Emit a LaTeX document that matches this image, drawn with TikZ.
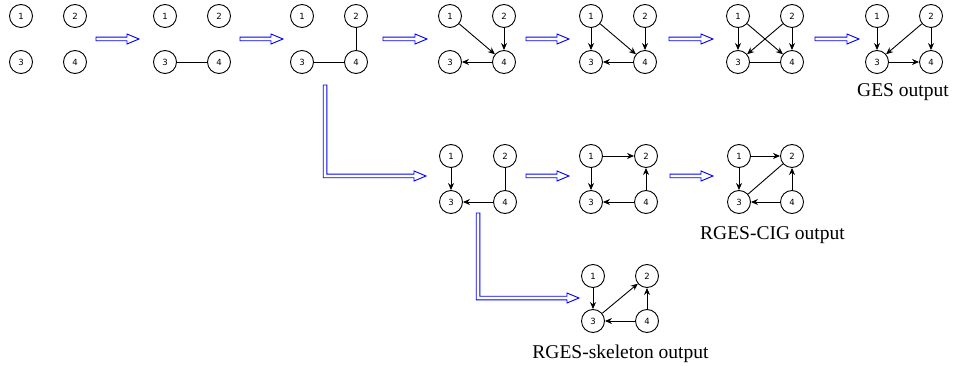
\documentclass[tikz,border=0pt]{standalone}
\usepackage{fontspec}
\setmainfont{Liberation Serif}
\newfontfamily\digitfont{DejaVu Sans}
\usetikzlibrary{arrows.meta}
\tikzset{
  vx/.style={circle,draw=black,line width=0.9pt,minimum size=23pt,inner sep=0pt,font=\digitfont\fontsize{8.5}{9}\selectfont},
  dir/.style={line width=0.9pt,-{Stealth[length=7pt,width=6pt]}},
  und/.style={line width=0.9pt},
  bluearrow/.style={draw=blue,line width=0.9pt,fill=white,line join=miter},
  caption/.style={font=\fontsize{19.5}{22}\selectfont,anchor=base,inner sep=0pt}
}
% four-node graph: prefix, x-left, x-right, y-top, y-bottom
\newcommand\fourg[5]{%
  \node[vx] (#1-1) at (#2,#4) {1};
  \node[vx] (#1-2) at (#3,#4) {2};
  \node[vx] (#1-3) at (#2,#5) {3};
  \node[vx] (#1-4) at (#3,#5) {4};
}
% horizontal blue implication arrow: x-start, x-end, y
\newcommand\harrow[3]{%
  \draw[bluearrow] (#1,#3-1.8) -- (#2-12,#3-1.8) -- (#2-12,#3-5) -- (#2,#3)
    -- (#2-12,#3+5) -- (#2-12,#3+1.8) -- (#1,#3+1.8) -- cycle;
}
% L-shaped blue arrow: x-vertical, y-top, y-corner, x-end
\newcommand\larrow[4]{%
  \draw[bluearrow] (#1-1.8,#2) -- (#1-1.8,#3+1.8) -- (#4-12,#3+1.8) -- (#4-12,#3+5)
    -- (#4,#3) -- (#4-12,#3-5) -- (#4-12,#3-1.8) -- (#1+1.8,#3-1.8) -- (#1+1.8,#2) -- cycle;
}
\begin{document}
\begin{tikzpicture}[x=1pt,y=-1pt]
\useasboundingbox (0,0) rectangle (953,366);

% top row
\fourg{a}{21}{75}{16}{62}
\fourg{b}{165}{219}{16}{62}
\fourg{c}{302}{356}{16}{62}
\fourg{d}{450}{504}{16}{62}
\fourg{e}{591}{645}{16}{62}
\fourg{f}{738}{792}{16}{62}
\fourg{g}{877}{931}{16}{62}
% middle row
\fourg{m}{451}{505}{156}{202}
\fourg{n}{591}{646}{156}{202}
\fourg{o}{739}{792}{156}{202}
% bottom row
\fourg{s}{593}{647}{276}{321}

% edges
\draw[und] (b-3) -- (b-4);

\draw[und] (c-3) -- (c-4);
\draw[und] (c-2) -- (c-4);

\draw[dir] (d-1) -- (d-4);
\draw[dir] (d-2) -- (d-4);
\draw[dir] (d-4) -- (d-3);

\draw[dir] (e-1) -- (e-3);
\draw[dir] (e-1) -- (e-4);
\draw[dir] (e-2) -- (e-4);
\draw[dir] (e-4) -- (e-3);

\draw[dir] (f-1) -- (f-3);
\draw[dir] (f-1) -- (f-4);
\draw[dir] (f-2) -- (f-3);
\draw[dir] (f-2) -- (f-4);
\draw[und] (f-3) -- (f-4);

\draw[dir] (g-1) -- (g-3);
\draw[dir] (g-2) -- (g-3);
\draw[dir] (g-2) -- (g-4);
\draw[dir] (g-3) -- (g-4);

\draw[dir] (m-1) -- (m-3);
\draw[und] (m-2) -- (m-4);
\draw[dir] (m-4) -- (m-3);

\draw[dir] (n-1) -- (n-2);
\draw[dir] (n-1) -- (n-3);
\draw[dir] (n-4) -- (n-2);
\draw[dir] (n-4) -- (n-3);

\draw[dir] (o-1) -- (o-2);
\draw[dir] (o-1) -- (o-3);
\draw[und] (o-3) -- (o-2);
\draw[dir] (o-4) -- (o-2);
\draw[dir] (o-4) -- (o-3);

\draw[dir] (s-1) -- (s-3);
\draw[dir] (s-3) -- (s-2);
\draw[dir] (s-4) -- (s-2);
\draw[dir] (s-4) -- (s-3);

% blue arrows
\harrow{96}{139}{39}
\harrow{240}{283}{39}
\harrow{383}{427}{39}
\harrow{526}{569}{39}
\harrow{669}{713}{39}
\harrow{815}{859}{39}
\harrow{526}{569}{176}
\harrow{670}{713}{176}
\larrow{325}{85}{176}{426}
\larrow{478}{213}{298}{579}

% captions
\node[caption] (cap1) at (903,97) {GES output};
\node[caption] (cap2) at (772.5,240) {RGES-CIG output};
\node[caption] (cap3) at (620.5,358) {RGES-skeleton output};
\end{tikzpicture}
\end{document}
